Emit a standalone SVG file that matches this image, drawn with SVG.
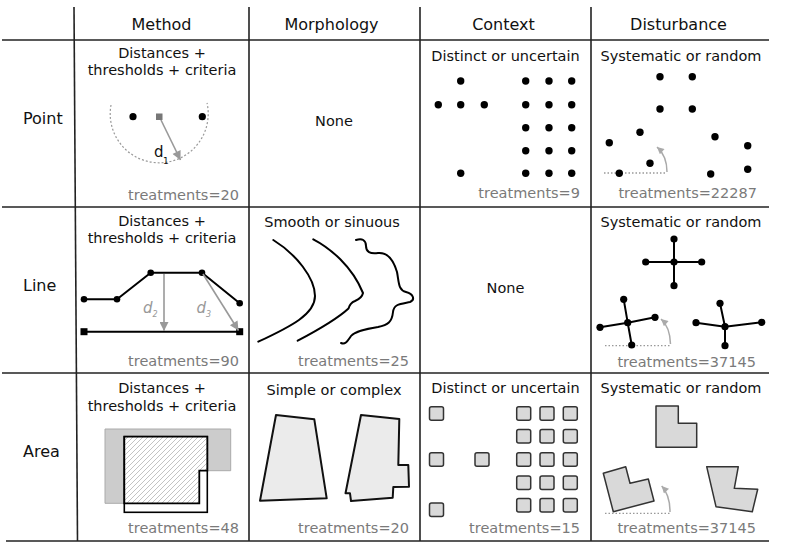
<svg xmlns="http://www.w3.org/2000/svg" width="787" height="553" viewBox="0 0 787 553">
<style>
text{font-family:"DejaVu Sans","Liberation Sans",sans-serif;fill:#111}
.hd{font-size:16px;text-anchor:middle}
.rl{font-size:16px}
.ct{font-size:14.5px;text-anchor:middle}
.tr{font-size:14.5px;text-anchor:end;fill:#7a7a7a}
.grid{stroke:#222;stroke-width:1.6;fill:none}
.blk{fill:#000}
.dl{stroke:#000;stroke-width:2;fill:none;stroke-linejoin:round;stroke-linecap:round}
.ga{stroke:#999;stroke-width:1.6;fill:none}
.gc{stroke:#aaa;stroke-width:1.5;fill:none}
.dot{stroke:#999;stroke-width:1.3;stroke-dasharray:1.5 2;fill:none}
.sq{fill:#d9d9d9;stroke:#333;stroke-width:1.5}
.poly{fill:#ebebeb;stroke:#111;stroke-width:2;stroke-linejoin:round}
.lp{fill:#d9d9d9;stroke:#333;stroke-width:1.5;stroke-linejoin:round}
.dlab{font-size:15px;font-style:italic;fill:#999}
.dsub{font-size:8px;font-style:italic;fill:#999}
</style>
<defs>
<marker id="ah" viewBox="0 0 10 10" refX="10" refY="5" markerUnits="userSpaceOnUse" markerWidth="11" markerHeight="9" orient="auto">
<path d="M0,0 L10,5 L0,10 z" fill="#999"/>
</marker>
<marker id="ah2" viewBox="0 0 10 10" refX="10" refY="5" markerUnits="userSpaceOnUse" markerWidth="8" markerHeight="7" orient="auto">
<path d="M0,0 L10,5 L0,10 z" fill="#aaa"/>
</marker>
<pattern id="hatch" patternUnits="userSpaceOnUse" width="5" height="5">
<rect width="5" height="5" fill="#fff"/>
<path d="M0,5 L5,0 M-1,1 L1,-1 M4,6 L6,4" stroke="#9a9a9a" stroke-width="0.6"/>
</pattern>
</defs>
<rect width="787" height="553" fill="#fff"/>

<g id="grid">
<line class="grid" x1="2" y1="40" x2="769" y2="40"/>
<line class="grid" x1="2" y1="207" x2="769" y2="207"/>
<line class="grid" x1="2" y1="373" x2="769" y2="373"/>
<line class="grid" x1="6" y1="541" x2="769" y2="541"/>
<line class="grid" x1="74" y1="7" x2="77.5" y2="541"/>
<line class="grid" x1="249" y1="7" x2="249" y2="541"/>
<line class="grid" x1="420" y1="7" x2="420" y2="541"/>
<line class="grid" x1="591" y1="7" x2="591" y2="541"/>
</g>

<g id="headers">
<text class="hd" x="161.5" y="30">Method</text>
<text class="hd" x="331.5" y="30">Morphology</text>
<text class="hd" x="503.5" y="30">Context</text>
<text class="hd" x="678.5" y="30">Disturbance</text>
<text class="rl" x="23" y="124">Point</text>
<text class="rl" x="23" y="291">Line</text>
<text class="rl" x="23" y="457">Area</text>
</g>

<g id="point-method">
<text class="ct" x="162" y="58">Distances +</text>
<text class="ct" x="162" y="75">thresholds + criteria</text>
<path d="M111,105 A49,49 0 1 0 207,103" stroke="#999" stroke-width="1.2" stroke-dasharray="2 2" fill="none"/>
<circle class="blk" cx="133" cy="116.7" r="3.6"/>
<circle class="blk" cx="202.3" cy="116.7" r="3.6"/>
<rect x="156" y="113.5" width="6.5" height="6.5" fill="#777"/>
<line class="ga" x1="161" y1="120" x2="180.5" y2="160" marker-end="url(#ah)"/>
<text x="154" y="157" font-size="15px">d</text>
<text x="163" y="164" font-size="9px">1</text>
<text class="tr" x="239" y="200">treatments=20</text>
</g>

<g id="point-morphology">
<text class="ct" x="334" y="126">None</text>
</g>

<g id="point-context">
<text class="ct" x="505.5" y="61">Distinct or uncertain</text>
<circle class="blk" cx="460.7" cy="81" r="3.7"/>
<circle class="blk" cx="438.3" cy="104.7" r="3.7"/>
<circle class="blk" cx="460.7" cy="104.7" r="3.7"/>
<circle class="blk" cx="484.3" cy="104.7" r="3.7"/>
<circle class="blk" cx="460.7" cy="173.3" r="3.7"/>
<g class="blk">
<circle cx="525.7" cy="81" r="3.7"/><circle cx="549" cy="81" r="3.7"/><circle cx="571.7" cy="81" r="3.7"/>
<circle cx="525.7" cy="104.7" r="3.7"/><circle cx="549" cy="104.7" r="3.7"/><circle cx="571.7" cy="104.7" r="3.7"/>
<circle cx="525.7" cy="127.7" r="3.7"/><circle cx="549" cy="127.7" r="3.7"/><circle cx="571.7" cy="127.7" r="3.7"/>
<circle cx="525.7" cy="150.7" r="3.7"/><circle cx="549" cy="150.7" r="3.7"/><circle cx="571.7" cy="150.7" r="3.7"/>
<circle cx="525.7" cy="173.3" r="3.7"/><circle cx="549" cy="173.3" r="3.7"/><circle cx="571.7" cy="173.3" r="3.7"/>
</g>
<text class="tr" x="580" y="198">treatments=9</text>
</g>

<g id="point-disturbance">
<text class="ct" x="681" y="61">Systematic or random</text>
<line class="dot" x1="604" y1="173" x2="667" y2="173"/>
<path class="gc" d="M667,172 Q667,156 657,147" marker-end="url(#ah2)"/>
<g class="blk">
<circle cx="660" cy="76.7" r="3.7"/><circle cx="692.3" cy="76.7" r="3.7"/>
<circle cx="660" cy="109" r="3.7"/><circle cx="692.3" cy="109" r="3.7"/>
<circle cx="640" cy="132.3" r="3.7"/><circle cx="609.3" cy="142.7" r="3.7"/>
<circle cx="715" cy="136.7" r="3.7"/><circle cx="747.7" cy="145.7" r="3.7"/>
<circle cx="650" cy="163.3" r="3.7"/><circle cx="619.3" cy="173.3" r="3.7"/>
<circle cx="710.7" cy="174" r="3.7"/><circle cx="747.7" cy="169.3" r="3.7"/>
</g>
<text class="tr" x="757" y="198">treatments=22287</text>
</g>

<g id="line-method">
<text class="ct" x="162" y="226">Distances +</text>
<text class="ct" x="162" y="243">thresholds + criteria</text>
<polyline class="dl" points="84,299.3 117,299.3 150.7,272.7 202,272.7 239.7,303.3"/>
<g class="blk">
<circle cx="84" cy="299.3" r="3.3"/><circle cx="117" cy="299.3" r="3.3"/>
<circle cx="150.7" cy="272.7" r="3.3"/><circle cx="202" cy="272.7" r="3.3"/>
<circle cx="239.7" cy="303.3" r="3.3"/>
</g>
<line class="dl" x1="84" y1="331.7" x2="239.7" y2="331.7"/>
<rect class="blk" x="80.5" y="328.2" width="7" height="7"/>
<rect class="blk" x="236.2" y="328.2" width="7" height="7"/>
<line class="ga" x1="164" y1="274" x2="164" y2="331" marker-end="url(#ah)"/>
<line class="ga" x1="203" y1="274" x2="238.5" y2="330.5" marker-end="url(#ah)"/>
<text class="dlab" x="143" y="313">d</text>
<text class="dsub" x="152.5" y="316.5">2</text>
<text class="dlab" x="196.5" y="313">d</text>
<text class="dsub" x="206" y="316.5">3</text>
<text class="tr" x="239" y="366">treatments=90</text>
</g>

<g id="line-morphology">
<text class="ct" x="332" y="227">Smooth or sinuous</text>
<path class="dl" d="M273.3,240 C296,254 315,278 315,296 C315,314 292,326 258.3,341.7"/>
<path class="dl" d="M313.3,239.3 C330,248 352,266 363,293 Q362,298 355,301 Q350,303 348.5,308.5 C336,320 318,330 297.7,340.7"/>
<path class="dl" d="M356,240 C362,238 366,240 366,246 C366,252 370,254 378,253 C388,252 394,262 397,272 C399,282 398,290 406,292 C414,294 415,300 410,302 C400,304 394,304 393,312 C392,322 388,325 378,327 C366,329 355,331 351,336 C348,340 346,345 341,343"/>
<text class="tr" x="409" y="366">treatments=25</text>
</g>

<g id="line-context">
<text class="ct" x="505.5" y="293">None</text>
</g>

<g id="line-disturbance">
<text class="ct" x="681" y="227">Systematic or random</text>
<line class="dot" x1="605" y1="345.7" x2="670" y2="345.7"/>
<path class="gc" d="M670.5,344 Q670,327 661,319" marker-end="url(#ah2)"/>
<path class="dl" d="M674,239 L674,285.7 M645.7,262 L701.7,262"/>
<path class="dl" d="M623.7,299.3 L627.7,322.7 L631.7,345 M600,327.3 L627.7,322.7 L655,317.3"/>
<path class="dl" d="M720,303.3 L725,326.7 L725,345.7 M696,322.7 L725,326.7 L761.7,322.3"/>
<g class="blk">
<circle cx="674" cy="262" r="3.6"/><circle cx="674" cy="239" r="3.6"/><circle cx="674" cy="285.7" r="3.6"/><circle cx="645.7" cy="262" r="3.6"/><circle cx="701.7" cy="262" r="3.6"/>
<circle cx="627.7" cy="322.7" r="3.6"/><circle cx="623.7" cy="299.3" r="3.6"/><circle cx="631.7" cy="345" r="3.6"/><circle cx="600" cy="327.3" r="3.6"/><circle cx="655" cy="317.3" r="3.6"/>
<circle cx="725" cy="326.7" r="3.6"/><circle cx="720" cy="303.3" r="3.6"/><circle cx="725" cy="345.7" r="3.6"/><circle cx="696" cy="322.7" r="3.6"/><circle cx="761.7" cy="322.3" r="3.6"/>
</g>
<text class="tr" x="756" y="367">treatments=37145</text>
</g>

<g id="area-method">
<text class="ct" x="162" y="393">Distances +</text>
<text class="ct" x="162" y="410.5">thresholds + criteria</text>
<path d="M105,429 L230.7,429 L230.7,470.7 L199.3,470.7 L199.3,503.3 L105,503.3 z" fill="#cccccc" stroke="#aaa" stroke-width="1"/>
<rect x="124.3" y="436.7" width="83" height="75.6" fill="#fff" stroke="#000" stroke-width="1.6"/>
<path d="M124.3,436.7 L207.3,436.7 L207.3,470.7 L199.3,470.7 L199.3,503.3 L124.3,503.3 z" fill="url(#hatch)" stroke="#000" stroke-width="1.8"/>
<text class="tr" x="239" y="533">treatments=48</text>
</g>

<g id="area-morphology">
<text class="ct" x="334" y="395">Simple or complex</text>
<path class="poly" d="M276,415 L314.3,419.3 L326.7,498.3 L260,500.7 z"/>
<path class="poly" d="M361,415 L399.3,419 L398.3,465 L408.3,465 L409,486.7 L393.3,487 L392.7,497.7 L351,501 L350,493.3 L345.5,493.3 z"/>
<text class="tr" x="409" y="533">treatments=20</text>
</g>

<g id="area-context">
<text class="ct" x="505.5" y="393">Distinct or uncertain</text>
<rect class="sq" x="429.5" y="406.7" width="14" height="13.5" rx="2"/>
<rect class="sq" x="429.5" y="452.7" width="14" height="13.5" rx="2"/>
<rect class="sq" x="429.5" y="503" width="14" height="13.5" rx="2"/>
<rect class="sq" x="475" y="452.7" width="14" height="13.5" rx="2"/>
<g>
<rect class="sq" x="516.7" y="406.7" width="14" height="13.5" rx="2"/><rect class="sq" x="540" y="406.7" width="14" height="13.5" rx="2"/><rect class="sq" x="563.3" y="406.7" width="14" height="13.5" rx="2"/>
<rect class="sq" x="516.7" y="429.5" width="14" height="13.5" rx="2"/><rect class="sq" x="540" y="429.5" width="14" height="13.5" rx="2"/><rect class="sq" x="563.3" y="429.5" width="14" height="13.5" rx="2"/>
<rect class="sq" x="516.7" y="452.7" width="14" height="13.5" rx="2"/><rect class="sq" x="540" y="452.7" width="14" height="13.5" rx="2"/><rect class="sq" x="563.3" y="452.7" width="14" height="13.5" rx="2"/>
<rect class="sq" x="516.7" y="476" width="14" height="13.5" rx="2"/><rect class="sq" x="540" y="476" width="14" height="13.5" rx="2"/><rect class="sq" x="563.3" y="476" width="14" height="13.5" rx="2"/>
<rect class="sq" x="516.7" y="498.5" width="14" height="13.5" rx="2"/><rect class="sq" x="540" y="498.5" width="14" height="13.5" rx="2"/><rect class="sq" x="563.3" y="498.5" width="14" height="13.5" rx="2"/>
</g>
<text class="tr" x="580" y="533">treatments=15</text>
</g>

<g id="area-disturbance">
<text class="ct" x="681" y="393">Systematic or random</text>
<path class="lp" d="M656,406 L678.3,406 L678.3,423.3 L696.7,423.3 L696.7,447.3 L656,447.3 z"/>
<path class="lp" d="M603.3,473.3 L625.7,466.7 L630,483.3 L648.3,479 L654,501 L613.3,511.7 z"/>
<path class="lp" d="M706.7,466.7 L738.3,466.7 L734.3,488.3 L757.7,489.3 L752.3,511.7 L716,506.7 z"/>
<line class="dot" x1="605" y1="513.3" x2="670" y2="513.3"/>
<path class="gc" d="M670,512 Q670,495 661.7,486" marker-end="url(#ah2)"/>
<text class="tr" x="756" y="533">treatments=37145</text>
</g>
</svg>
